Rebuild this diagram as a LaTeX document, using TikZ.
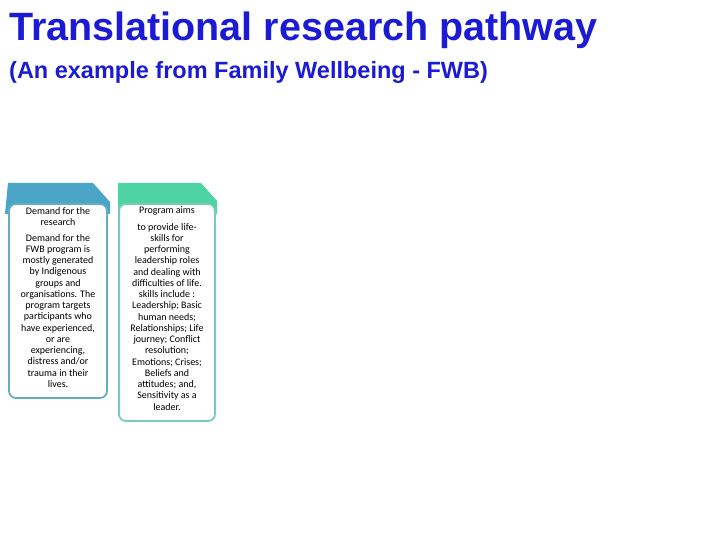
\documentclass[tikz,border=0pt]{standalone}
\usepackage{fontspec}
\setmainfont{Liberation Sans}
\newfontfamily\carlitofont{Carlito}
\begin{document}
\begin{tikzpicture}[x=1pt,y=-1pt,
  body/.style={font=\carlitofont\fontsize{10}{11.25}\selectfont,align=center,inner sep=0pt},
  hd/.style={font=\carlitofont\fontsize{10}{11.25}\selectfont,align=center,inner sep=0pt}]
\useasboundingbox (0,0) rectangle (720,540);
\definecolor{tA}{HTML}{4AA5C6}\definecolor{bA}{HTML}{62AFC4}
\definecolor{tB}{HTML}{4ED3A3}\definecolor{bB}{HTML}{74CDB7}
\definecolor{ttl}{HTML}{1B1BD6}
\node[anchor=west,font=\bfseries\fontsize{39.5}{42}\selectfont,text=ttl,inner sep=0pt] (title) at (9,30) {Translational research pathway};
\node[anchor=west,font=\bfseries\fontsize{23.5}{26}\selectfont,text=ttl,inner sep=0pt] (sub) at (9,72) {(An example from Family Wellbeing - FWB)};
% box A
\fill[tA] (8,183) -- (93,183) -- (110,202) -- (110,214) -- (5,214) -- cycle;
\draw[bA,line width=1.8pt,fill=white,rounded corners=7pt] (9,204) rectangle (107,398);
\node[hd,anchor=north] (ha) at (58,207) {Demand for the\\research};
\node[body,anchor=north] (ba) at (58,234) {Demand for the\\FWB program is\\mostly generated\\by Indigenous\\groups and\\organisations. The\\program targets\\participants who\\have experienced,\\or are\\experiencing,\\distress and/or\\trauma in their\\lives.};
% box B
\fill[tB] (118,183) -- (201,183) -- (217,201) -- (217,214) -- (118,214) -- cycle;
\draw[bB,line width=1.8pt,fill=white,rounded corners=7pt] (119,204) rectangle (215,421);
\node[hd,anchor=north] (hb) at (167,206) {Program aims};
\node[body,anchor=north] (bb) at (167,223) {to provide life-\\skills for\\performing\\leadership roles\\and dealing with\\difficulties of life.\\skills include :\\Leadership; Basic\\human needs;\\Relationships; Life\\journey; Conflict\\resolution;\\Emotions; Crises;\\Beliefs and\\attitudes; and,\\Sensitivity as a\\leader.};
\end{tikzpicture}
\end{document}
